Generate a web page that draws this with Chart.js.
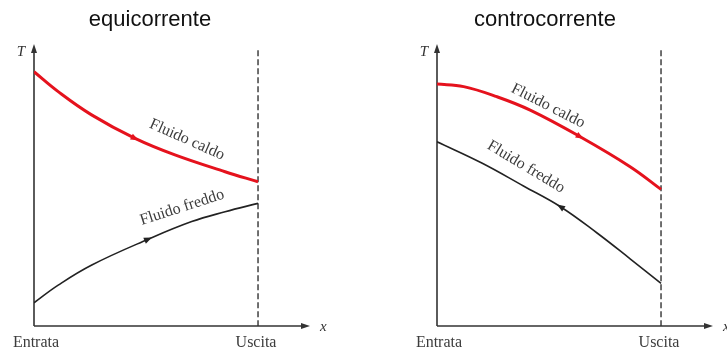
<!DOCTYPE html>
<html><head><meta charset="utf-8">
<script src="https://cdn.jsdelivr.net/npm/chart.js@4"></script>
<style>
html,body{margin:0;padding:0;background:#fff;width:727px;height:351px;overflow:hidden}
canvas{position:absolute;top:0}
#c1{left:0}#c2{left:364px}
</style></head>
<body>
<canvas id="c1" width="364" height="351"></canvas>
<canvas id="c2" width="363" height="351"></canvas>
<script>
// ---- data ----
const titles = ['equicorrente', 'controcorrente'];
const tickLabels = ['Entrata', 'Uscita'];
const tickValues = [0, 1];
const seriesNames = ['Fluido caldo', 'Fluido freddo'];
const axisLabels = ['T', 'x'];

// equicorrente (parallel flow)
const hotEquiX  = [0, 0.108, 0.257, 0.451, 0.629, 0.853, 1];
const hotEquiT  = [90.8, 83.7, 75.4, 67.0, 61.1, 55.1, 51.5];
const coldEquiX = [0, 0.108, 0.258, 0.510, 0.704, 0.853, 1];
const coldEquiT = [8.3, 14.6, 21.8, 31.0, 37.3, 40.8, 43.8];

// controcorrente (counter flow)
const hotContraX  = [0, 0.119, 0.267, 0.416, 0.639, 0.862, 1];
const hotContraT  = [86.4, 85.5, 81.9, 77.1, 67.6, 56.9, 48.8];
const coldContraX = [0, 0.200, 0.386, 0.551, 0.713, 0.862, 1];
const coldContraT = [65.8, 58.2, 50.0, 42.6, 33.3, 24.0, 15.2];

const toPts = (xs, ys) => xs.map((v, i) => ({x: v, y: ys[i]}));

const HOT = '#e5121d', COLD = '#222222', AX = '#333333', TXT = '#3c3c3c';
const SERIF = '"Liberation Serif", "DejaVu Serif", serif';
const SANS = '"Liberation Sans", Arial, sans-serif';

const diagram = {
  id: 'diagram',
  beforeDatasetsDraw(chart, args, o) {
    const {ctx, scales: {x, y}} = chart;
    const x0 = x.getPixelForValue(0), y0 = y.getPixelForValue(0);
    const xEnd = x.getPixelForValue(x.max), yTop = y.getPixelForValue(y.max);
    ctx.save();
    ctx.strokeStyle = AX; ctx.fillStyle = AX; ctx.lineWidth = 1.6;
    ctx.beginPath(); ctx.moveTo(x0, y0); ctx.lineTo(x0, yTop + 4); ctx.stroke();
    ctx.beginPath(); ctx.moveTo(x0, y0); ctx.lineTo(xEnd - 5, y0); ctx.stroke();
    ctx.beginPath(); ctx.moveTo(x0, yTop - 2); ctx.lineTo(x0 - 3, yTop + 7); ctx.lineTo(x0 + 3, yTop + 7); ctx.closePath(); ctx.fill();
    ctx.beginPath(); ctx.moveTo(xEnd, y0); ctx.lineTo(xEnd - 9, y0 - 3); ctx.lineTo(xEnd - 9, y0 + 3); ctx.closePath(); ctx.fill();
    const xu = x.getPixelForValue(1);
    ctx.setLineDash([6, 3]); ctx.lineWidth = 1.4;
    ctx.beginPath(); ctx.moveTo(xu, y.getPixelForValue(98.5)); ctx.lineTo(xu, y0); ctx.stroke();
    ctx.setLineDash([]);
    ctx.restore();
  },
  afterDatasetsDraw(chart, args, o) {
    const {ctx, scales: {x, y}} = chart;
    const x0 = x.getPixelForValue(0), y0 = y.getPixelForValue(0);
    const xEnd = x.getPixelForValue(x.max), yTop = y.getPixelForValue(y.max);
    ctx.save();
    o.arrows.forEach(a => {
      const d = chart.data.datasets[a.ds].data;
      const p = d[a.i], pa = d[a.i - 1], pb = d[a.i + 1];
      const px = x.getPixelForValue(p.x), py = y.getPixelForValue(p.y);
      let dx = x.getPixelForValue(pb.x) - x.getPixelForValue(pa.x);
      let dy = y.getPixelForValue(pb.y) - y.getPixelForValue(pa.y);
      const L = Math.hypot(dx, dy); dx = dx / L * a.dir; dy = dy / L * a.dir;
      const nx = -dy, ny = dx, s = 8, w = 3.2;
      ctx.fillStyle = a.color;
      ctx.beginPath();
      ctx.moveTo(px + dx * s / 2, py + dy * s / 2);
      ctx.lineTo(px - dx * s / 2 + nx * w, py - dy * s / 2 + ny * w);
      ctx.lineTo(px - dx * s / 2 - nx * w, py - dy * s / 2 - ny * w);
      ctx.closePath(); ctx.fill();
    });
    ctx.fillStyle = TXT; ctx.font = '16px ' + SERIF;
    ctx.textAlign = 'center'; ctx.textBaseline = 'middle';
    o.labels.forEach(l => {
      ctx.save();
      ctx.translate(x.getPixelForValue(l.x), y.getPixelForValue(l.y));
      ctx.rotate(l.angle * Math.PI / 180);
      ctx.fillText(l.text, 0, 0);
      ctx.restore();
    });
    ctx.font = '16px ' + SERIF; ctx.textBaseline = 'middle';
    tickValues.forEach((v, i) => ctx.fillText(tickLabels[i], x.getPixelForValue(v) + (i === 0 ? 2 : -2), y0 + 17));
    ctx.font = 'italic 15px ' + SERIF; ctx.fillStyle = '#333';
    ctx.fillText(axisLabels[0], x0 - 13, yTop + 6);
    ctx.textAlign = 'left';
    ctx.fillText(axisLabels[1], xEnd + 10, y0 + 1);
    ctx.fillStyle = '#111'; ctx.font = '22px ' + SANS; ctx.textAlign = 'center'; ctx.textBaseline = 'alphabetic';
    ctx.fillText(o.title, o.titleX, 26);
    ctx.restore();
  }
};

function makeChart(id, hot, cold, padL, padR, opts) {
  return new Chart(document.getElementById(id), {
    type: 'line',
    data: {datasets: [
      {label: seriesNames[0], data: hot, borderColor: HOT, borderWidth: 3, pointRadius: 0, tension: 0.4, fill: false},
      {label: seriesNames[1], data: cold, borderColor: COLD, borderWidth: 1.6, pointRadius: 0, tension: 0.4, fill: false}
    ]},
    options: {
      responsive: false, animation: false, events: [],
      layout: {padding: {left: padL, right: padR, top: 46, bottom: 25}},
      scales: {
        x: {type: 'linear', min: 0, max: 1.232, display: false},
        y: {type: 'linear', min: 0, max: 100, display: false}
      },
      plugins: {legend: {display: false}, tooltip: {enabled: false}, title: {display: false}, diagram: opts}
    },
    plugins: [diagram]
  });
}

makeChart('c1', toPts(hotEquiX, hotEquiT), toPts(coldEquiX, coldEquiT), 34, 54, {
  title: titles[0], titleX: 150,
  arrows: [{ds: 0, i: 3, dir: 1, color: HOT}, {ds: 1, i: 3, dir: 1, color: COLD}],
  labels: [
    {text: seriesNames[0], x: 0.683, y: 66.5, angle: 24},
    {text: seriesNames[1], x: 0.661, y: 42.3, angle: -18}
  ]
});

makeChart('c2', toPts(hotContraX, hotContraT), toPts(coldContraX, coldContraT), 73, 14, {
  title: titles[1], titleX: 181,
  arrows: [{ds: 0, i: 4, dir: 1, color: HOT}, {ds: 1, i: 3, dir: -1, color: COLD}],
  labels: [
    {text: seriesNames[0], x: 0.496, y: 78.6, angle: 27},
    {text: seriesNames[1], x: 0.397, y: 56.8, angle: 31}
  ]
});
</script>
</body></html>
